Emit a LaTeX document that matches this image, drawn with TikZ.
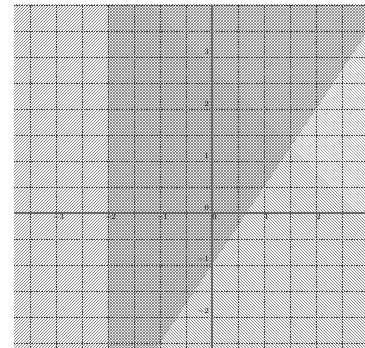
\documentclass[tikz,border=0pt]{standalone}
\usepackage{tikz}
\usetikzlibrary{patterns}
\tikzstyle{gridline}=[black!75, dash pattern=on 1.5pt off 1pt, line width=0.4pt]
\tikzstyle{axisline}=[black!60, line width=1.6pt]
\tikzstyle{ticklabel}=[inner sep=1pt, font=\footnotesize, text=black]
\tikzstyle{abovepart}=[pattern=north east lines, pattern color=black!55]
\tikzstyle{rightpart}=[pattern=north west lines, pattern color=black!55]
\begin{document}
\begin{tikzpicture}[x=52pt, y=52pt]
        \useasboundingbox (-4.077, -2.596) rectangle (2.942, 4.096);
        \begin{scope}
            \clip (-3.81, -2.596) rectangle (2.942, 4);
            % y >= 1.5x - 1
            \fill[abovepart] (-5, -8.5) -- (4, 5) -- (-5, 5) -- cycle;
            % x >= -2
            \fill[rightpart] (-2, -3) rectangle (3, 5);
            \draw[gridline, step=0.5] (-3.81, -2.596) grid (2.942, 4);
        \end{scope}
        \draw[axisline] (-3.81, 0) -- (2.942, 0);
        \draw[axisline] (0, -2.596) -- (0, 4);
        \foreach \i in {-3,...,2}
            \node[ticklabel, anchor=north, xshift=2.5pt] (xl\i) at (\i, 0) {$\i$};
        \foreach \i in {-2,...,3}
            \node[ticklabel, anchor=south east, xshift=-2pt, yshift=1pt] (yl\i) at (0, \i) {$\i$};
    \end{tikzpicture}
\end{document}
